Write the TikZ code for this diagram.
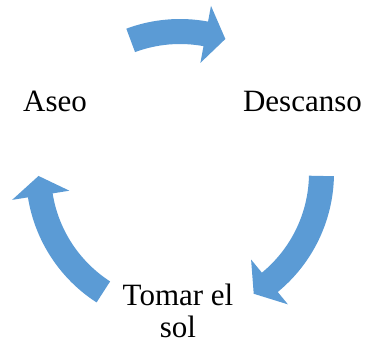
\documentclass[tikz,border=0pt]{standalone}
\usepackage{fontspec}
\setmainfont{Liberation Serif}
\definecolor{arrowblue}{HTML}{5B9BD5}
\newcommand{\Ro}{154}
\newcommand{\Ri}{129}
\newcommand{\Rm}{141.5}
\newcommand{\Rho}{170}
\newcommand{\Rhi}{112}
% #1 tail angle, #2 head base angle, #3 tip angle
\newcommand{\cycarr}[3]{%
  \fill[arrowshape] (#1:\Ro) arc[start angle=#1, end angle=#2, radius=\Ro]
    -- (#2:\Rho) -- (#3:\Rm) -- (#2:\Rhi) -- (#2:\Ri)
    arc[start angle=#2, end angle=#1, radius=\Ri] -- cycle;}
\begin{document}
\begin{tikzpicture}[x=1pt,y=1pt,
  arrowshape/.style={fill=arrowblue},
  txtnode/.style={font=\rmfamily\fontsize{31}{32}\selectfont, inner sep=0pt, align=center, text=black}]
\useasboundingbox (0,0) rectangle (368,346);
\begin{scope}[shift={(180,173)}]
  \cycarr{110.4}{79.5}{71.3}
  \cycarr{-1.2}{-50.6}{-58.6}
  \cycarr{237.2}{189.1}{181.2}
\end{scope}
\node[txtnode, anchor=base] (aseo) at (55,234) {Aseo};
\node[txtnode, anchor=base] (descanso) at (302.5,234) {Descanso};
\node[txtnode, anchor=base] (tomar) at (178,8) {Tomar el\\sol};
\end{tikzpicture}
\end{document}
